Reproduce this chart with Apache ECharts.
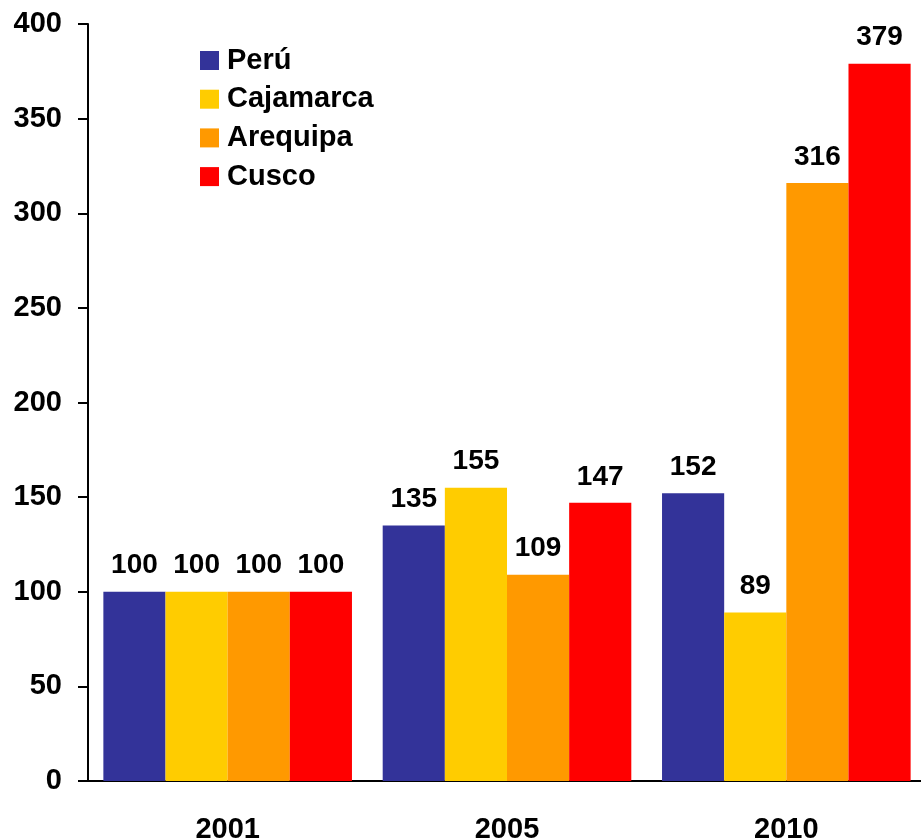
<!DOCTYPE html>
<html>
<head>
<meta charset="utf-8">
<script src="https://cdn.jsdelivr.net/npm/echarts@6/dist/echarts.min.js"></script>
<style>
  html, body { margin: 0; padding: 0; background: #fff; }
  #chart { width: 921px; height: 839px; }
</style>
</head>
<body>
<div id="chart"></div>
<script>
const years = ['2001', '2005', '2010'];
const peru = [100, 135, 152];
const cajamarca = [100, 155, 89];
const arequipa = [100, 109, 316];
const cusco = [100, 147, 379];

const font = 'Liberation Sans, Arial, sans-serif';

function makeSeries(name, data, color) {
  return {
    name: name,
    type: 'bar',
    data: data,
    barGap: 0,
    barCategoryGap: '11%',
    itemStyle: { color: color },
    label: {
      show: true,
      position: 'top',
      distance: 12,
      color: '#000',
      fontFamily: font,
      fontWeight: 'bold',
      fontSize: 28
    }
  };
}

echarts.init(document.getElementById('chart')).setOption({
  animation: false,
  grid: { left: 88, right: -5, top: 24, bottom: 58, containLabel: false, outerBoundsMode: 'none' },
  legend: {
    orient: 'vertical',
    left: 200,
    top: 46,
    padding: 0,
    itemWidth: 19,
    itemHeight: 19,
    itemGap: 9.7,
    icon: 'rect',
    textStyle: { fontFamily: font, fontWeight: 'bold', fontSize: 29, color: '#000', padding: [0, 0, 0, 3] }
  },
  xAxis: {
    type: 'category',
    data: years,
    axisLine: { lineStyle: { color: '#000', width: 2 } },
    axisTick: { length: 9, lineStyle: { color: '#000', width: 2 } },
    axisLabel: { margin: 34, color: '#000', fontFamily: font, fontWeight: 'bold', fontSize: 29 }
  },
  yAxis: {
    type: 'value',
    min: 0,
    max: 400,
    interval: 50,
    splitLine: { show: false },
    axisLine: { show: true, lineStyle: { color: '#000', width: 2 } },
    axisTick: { show: true, length: 10, lineStyle: { color: '#000', width: 2 } },
    axisLabel: { margin: 26, color: '#000', fontFamily: font, fontWeight: 'bold', fontSize: 29 }
  },
  series: [
    makeSeries('Perú', peru, '#333399'),
    makeSeries('Cajamarca', cajamarca, '#FFCC00'),
    makeSeries('Arequipa', arequipa, '#FF9900'),
    makeSeries('Cusco', cusco, '#FF0000')
  ]
});
</script>
</body>
</html>
